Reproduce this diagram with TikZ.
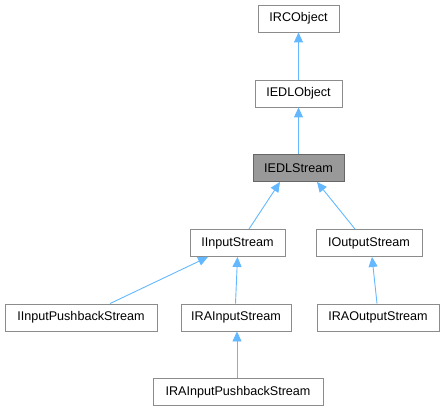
\documentclass[tikz,border=0pt]{standalone}
\usepackage{fontspec}
\setmainfont{Liberation Sans}
\usetikzlibrary{arrows.meta}
\definecolor{edgeblue}{HTML}{63B8FF}
\definecolor{boxborder}{HTML}{8C8C8C}
\definecolor{hiborder}{HTML}{666666}
\definecolor{hifill}{HTML}{999999}
\begin{document}
\begin{tikzpicture}[x=1pt,y=-1pt,
  cls/.style={draw=boxborder,fill=white,line width=0.9pt,minimum height=27pt,inner sep=0pt,
    font=\fontsize{12.6}{14}\selectfont,text=black},
  hi/.style={cls,draw=hiborder,fill=hifill},
  inh/.style={draw=edgeblue,line width=0.9pt,-{Triangle[length=10pt,width=9pt,fill=edgeblue]}}]
\useasboundingbox (0,0) rectangle (446,411);
\node[cls,minimum width=81pt] (irc) at (298.5,18.5) {IRCObject};
\node[cls,minimum width=87pt] (iedlo) at (298.5,93.5) {IEDLObject};
\node[hi,minimum width=91pt] (iedls) at (298.5,168) {IEDLStream};
\node[cls,minimum width=95pt] (iin) at (237.5,243) {IInputStream};
\node[cls,minimum width=106pt] (iout) at (369,243) {IOutputStream};
\node[cls,minimum width=152pt] (iinpb) at (81,317.5) {IInputPushbackStream};
\node[cls,minimum width=110pt] (irain) at (236,317.5) {IRAInputStream};
\node[cls,minimum width=122pt] (iraout) at (378,317.5) {IRAOutputStream};
\node[cls,minimum width=170pt] (irainpb) at (238,392) {IRAInputPushbackStream};
\draw[inh] (iedlo.north) -- (irc.south);
\draw[inh] (iedls.north) -- (iedlo.south);
\draw[inh] ([xshift=11.5pt]iin.north) -- ([xshift=-18.5pt]iedls.south);
\draw[inh] ([xshift=-14pt]iout.north) -- ([xshift=18.5pt]iedls.south);
\draw[inh] ([xshift=29pt]iinpb.north) -- ([xshift=-29.5pt]iin.south);
\draw[inh] ([xshift=-0.5pt]irain.north) -- (iin.south);
\draw[inh] ([xshift=-1pt]iraout.north) -- ([xshift=3pt]iout.south);
\draw[inh] ([xshift=-1pt]irainpb.north) -- ([xshift=1pt]irain.south);
\end{tikzpicture}
\end{document}
